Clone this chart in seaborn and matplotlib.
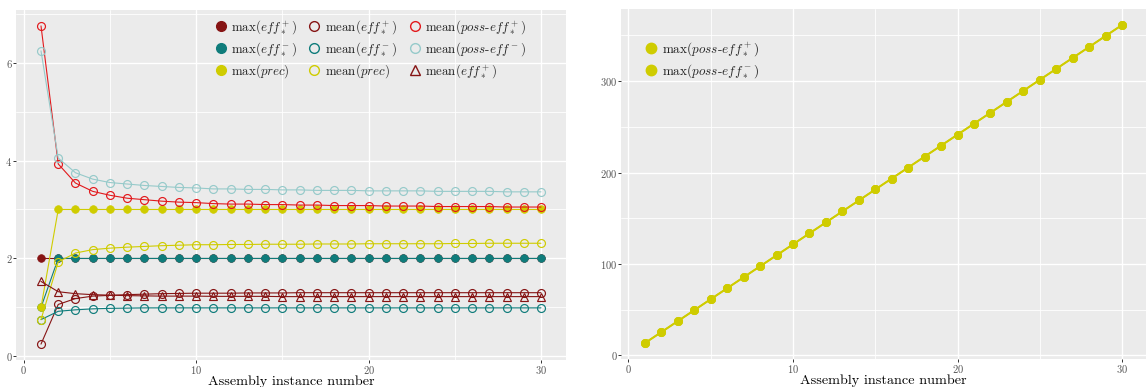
import matplotlib
matplotlib.use("Agg")
import matplotlib.pyplot as plt
from matplotlib.lines import Line2D
from matplotlib.ticker import MultipleLocator
import seaborn as sns
import pandas as pd

# ---------------- data ----------------
instances = list(range(1, 31))

max_eff_pos = [2.0] * 30
max_eff_neg = [1.0] + [2.0] * 29
max_prec = [1.0] + [3.0] * 29

mean_eff_pos = [0.25, 1.06, 1.18, 1.23, 1.245, 1.26, 1.27, 1.28, 1.285, 1.29,
                1.29, 1.29, 1.295, 1.295, 1.295, 1.30, 1.30, 1.30, 1.30, 1.30,
                1.30, 1.30, 1.30, 1.30, 1.30, 1.30, 1.30, 1.30, 1.30, 1.30]
mean_eff_neg = [0.75, 0.92, 0.95, 0.97, 0.98, 0.985, 0.99, 0.99, 0.99, 0.99,
                0.99, 0.99, 0.99, 0.99, 0.99, 0.99, 0.99, 0.99, 0.99, 0.99,
                0.99, 0.99, 0.99, 0.99, 0.99, 0.99, 0.99, 0.99, 0.99, 0.99]
mean_prec = [0.75, 1.93, 2.11, 2.18, 2.21, 2.23, 2.245, 2.26, 2.27, 2.28,
             2.28, 2.285, 2.285, 2.29, 2.29, 2.29, 2.295, 2.295, 2.295, 2.30,
             2.30, 2.30, 2.30, 2.30, 2.305, 2.305, 2.31, 2.31, 2.31, 2.31]
mean_poss_eff_pos = [6.75, 3.93, 3.54, 3.37, 3.29, 3.23, 3.20, 3.17, 3.15, 3.14,
                     3.12, 3.11, 3.11, 3.10, 3.10, 3.09, 3.09, 3.08, 3.08, 3.08,
                     3.07, 3.07, 3.07, 3.06, 3.06, 3.06, 3.06, 3.05, 3.05, 3.05]
mean_poss_eff_neg = [6.24, 4.05, 3.75, 3.62, 3.55, 3.52, 3.49, 3.47, 3.45, 3.44,
                     3.42, 3.42, 3.41, 3.41, 3.40, 3.40, 3.39, 3.39, 3.39, 3.38,
                     3.38, 3.38, 3.38, 3.37, 3.37, 3.37, 3.37, 3.36, 3.36, 3.36]
mean_eff_pos_tri = [1.53, 1.32, 1.28, 1.26, 1.25, 1.24, 1.235, 1.23, 1.23, 1.23,
                    1.225, 1.225, 1.225, 1.225, 1.22, 1.22, 1.22, 1.22, 1.22, 1.22,
                    1.22, 1.22, 1.22, 1.22, 1.22, 1.22, 1.22, 1.22, 1.22, 1.22]

max_poss_eff_pos = [13.5, 25.5, 37.5, 49.5, 61.5, 73.5, 85.5, 97.5, 109.5, 121.5,
                    133.5, 145.5, 157.5, 169.5, 181.5, 193.5, 205.5, 217.5, 229.5, 241.5,
                    253.5, 265.5, 277.5, 289.5, 301.5, 313.5, 325.5, 337.5, 349.5, 361.5]
max_poss_eff_neg = list(max_poss_eff_pos)

left_labels = [
    r"max$(\mathit{eff}_*^+)$",
    r"max$(\mathit{eff}_*^-)$",
    r"max$(\mathit{prec})$",
    r"mean$(\mathit{eff}_*^+)$",
    r"mean$(\mathit{eff}_*^-)$",
    r"mean$(\mathit{prec})$",
    r"mean$(\mathit{poss}$-$\mathit{eff}_*^+)$",
    r"mean$(\mathit{poss}$-$\mathit{eff}^-)$",
    r"mean$(\mathit{eff}_*^+)$",
]
right_labels = [
    r"max$(\mathit{poss}$-$\mathit{eff}_*^+)$",
    r"max$(\mathit{poss}$-$\mathit{eff}_*^-)$",
]
x_label = "Assembly instance number"

# ---------------- style ----------------
DARKRED = "#861414"
TEAL = "#0F7C7B"
YELLOW = "#CFCC00"
RED = "#E2191C"
LTEAL = "#96CACA"
BG = "#EBEBEB"

sns.set_theme(style="darkgrid")
plt.rcParams.update({
    "font.family": "serif",
    "font.serif": ["cmr10", "DejaVu Serif"],
    "mathtext.fontset": "cm",
    "axes.formatter.use_mathtext": True,
    "axes.facecolor": BG,
    "figure.facecolor": "white",
    "axes.edgecolor": BG,
    "grid.color": "white",
})

fig = plt.figure(figsize=(11.47, 3.87), dpi=100)
axL = fig.add_axes([16 / 1147, 27 / 387, 550 / 1147, 350 / 387])
axR = fig.add_axes([621 / 1147, 28 / 387, 525 / 1147, 350 / 387])

# series spec: (values, color, marker, filled)
left_series = [
    (max_eff_pos, DARKRED, "o", True),
    (max_eff_neg, TEAL, "o", True),
    (max_prec, YELLOW, "o", True),
    (mean_eff_pos, DARKRED, "o", False),
    (mean_eff_neg, TEAL, "o", False),
    (mean_prec, YELLOW, "o", False),
    (mean_poss_eff_pos, RED, "o", False),
    (mean_poss_eff_neg, LTEAL, "o", False),
    (mean_eff_pos_tri, DARKRED, "^", False),
]


def draw(ax, vals, color, marker, filled, ms_f=5.5, ms_o=5.7, lw=0.8):
    df = pd.DataFrame({"x": instances, "y": vals})
    if filled:
        sns.lineplot(data=df, x="x", y="y", ax=ax, color=color, lw=lw,
                     marker=marker, markersize=ms_f, markerfacecolor=color,
                     markeredgecolor=color, markeredgewidth=0.5)
    else:
        sns.lineplot(data=df, x="x", y="y", ax=ax, color=color, lw=lw,
                     marker=marker, markersize=ms_o, markerfacecolor="none",
                     markeredgecolor=color, markeredgewidth=0.85)


for vals, color, marker, filled in left_series:
    draw(axL, vals, color, marker, filled)

handlesL = []
for (vals, color, marker, filled), lab in zip(left_series, left_labels):
    if filled:
        h = Line2D([], [], ls="none", marker=marker, markersize=7,
                   markerfacecolor=color, markeredgecolor=color, label=lab)
    else:
        h = Line2D([], [], ls="none", marker=marker, markersize=7,
                   markerfacecolor="none", markeredgecolor=color,
                   markeredgewidth=1.0, label=lab)
    handlesL.append(h)

legL = axL.legend(handles=handlesL, ncol=3, loc="upper left",
                  bbox_to_anchor=(0.346, 0.998), frameon=False, fontsize=9.3,
                  handlelength=1.0, handletextpad=0.35, columnspacing=0.82,
                  labelspacing=0.32, borderaxespad=0.2)

for vals in (max_poss_eff_pos, max_poss_eff_neg):
    draw(axR, vals, YELLOW, "o", True, ms_f=6.0, lw=1.3)

handlesR = [Line2D([], [], ls="none", marker="o", markersize=7.5,
                   markerfacecolor=YELLOW, markeredgecolor=YELLOW, label=lab)
            for lab in right_labels]
axR.legend(handles=handlesR, loc="upper left", bbox_to_anchor=(0.022, 0.945),
           frameon=False, fontsize=9.5, handlelength=1.0, handletextpad=0.35,
           labelspacing=0.32)

for ax, major, minor in ((axL, 2, 1), (axR, 100, 50)):
    ax.xaxis.set_major_locator(MultipleLocator(10))
    ax.xaxis.set_minor_locator(MultipleLocator(5))
    ax.yaxis.set_major_locator(MultipleLocator(major))
    ax.yaxis.set_minor_locator(MultipleLocator(minor))
    ax.grid(which="major", color="white", lw=1.0)
    ax.grid(which="minor", color="white", lw=0.6)
    ax.tick_params(which="major", axis="both", length=2.0, width=0.7,
                   color="#333333", labelsize=7.6, labelcolor="#555555", pad=0.6,
                   bottom=True, left=True)
    ax.tick_params(which="minor", length=0)
    ax.set_xlabel(x_label, fontsize=10.2, labelpad=0.0, color="black")
    ax.set_ylabel("")
    for s in ax.spines.values():
        s.set_visible(False)
    ax.set_axisbelow(True)

fig.savefig("out.png", dpi=100)
